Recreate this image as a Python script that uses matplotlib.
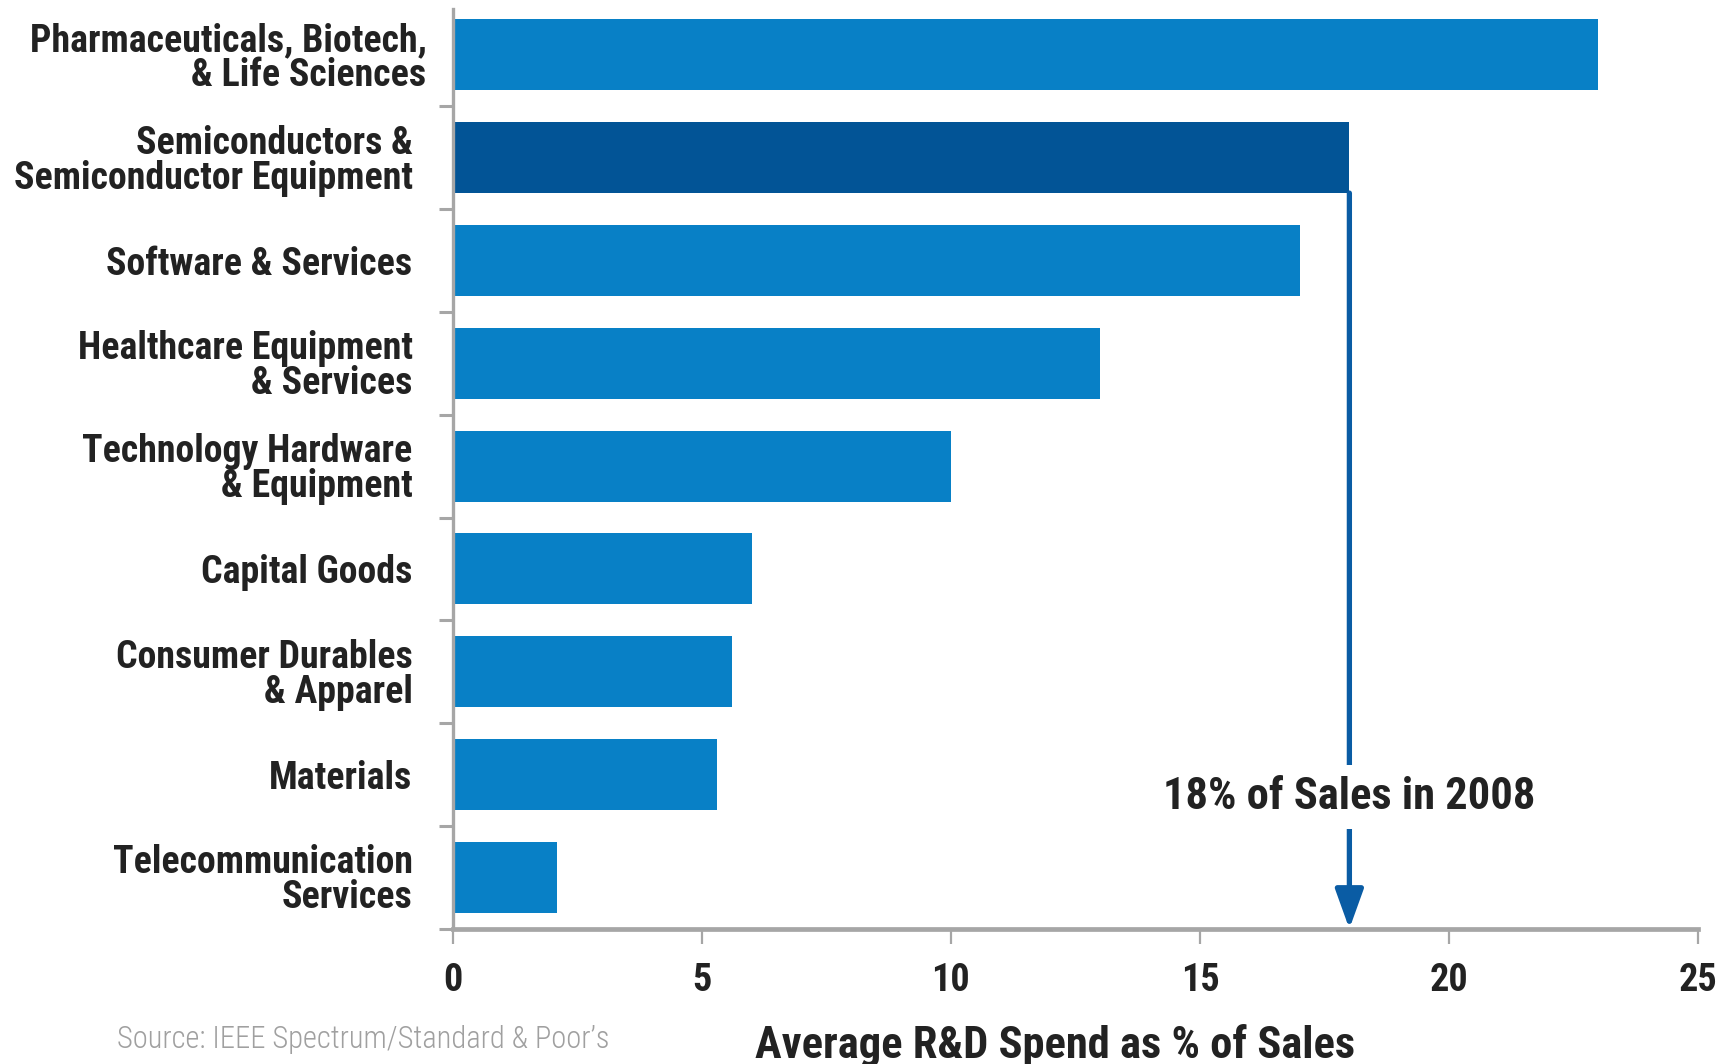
import matplotlib
matplotlib.use("Agg")
import matplotlib.pyplot as plt
import matplotlib.transforms as mtransforms
import numpy as np

sectors = [
    "Pharmaceuticals, Biotech,\n& Life Sciences",
    "Semiconductors &\nSemiconductor Equipment",
    "Software & Services",
    "Healthcare Equipment\n& Services",
    "Technology Hardware\n& Equipment",
    "Capital Goods",
    "Consumer Durables\n& Apparel",
    "Materials",
    "Telecommunication\nServices",
]
rd_share = [23.0, 18.0, 17.0, 13.0, 10.0, 6.0, 5.6, 5.3, 2.1]
highlight = "Semiconductors &\nSemiconductor Equipment"
x_ticks = [0, 5, 10, 15, 20, 25]

BLUE = "#0880c6"
DARK_BLUE = "#025496"
ARROW_BLUE = "#0a5ca4"
AXIS_GRAY = "#a6a6a6"
TEXT = "#222222"

plt.rcParams["font.family"] = ["Roboto Condensed", "IBM Plex Sans Condensed",
                               "Fira Sans Condensed", "Barlow Semi Condensed",
                               "DejaVu Sans"]

fig = plt.figure(figsize=(17.35, 10.64), dpi=100)
ax = fig.add_axes([0.261, 0.127, 0.7177, 0.865])

y = np.arange(len(sectors))
colors = [DARK_BLUE if s == highlight else BLUE for s in sectors]
bar_h = 0.69
ax.barh(y, rd_share, height=bar_h, color=colors, zorder=2)

ax.set_xlim(0, 25)
ax.set_ylim(len(sectors) - 0.5, -0.45)

# category labels at bar centres, tick marks between the bars
ax.set_yticks(y)
ax.set_yticklabels(sectors, fontsize=27.3, fontweight="semibold", color=TEXT,
                   linespacing=0.93)
ax.set_yticks(np.arange(len(sectors)) + 0.5, minor=True)
ax.tick_params(axis="y", which="major", length=0, pad=29)
ax.tick_params(axis="y", which="minor", length=10, width=2.2, color=AXIS_GRAY)

# the top label sits a little closer to the axis
first = ax.get_yticklabels()[0]
first.set_transform(first.get_transform() +
                    mtransforms.ScaledTranslation(14 / 100, 0, fig.dpi_scale_trans))

ax.set_xticks(x_ticks)
ax.set_xticklabels([str(t) for t in x_ticks], fontsize=27.5,
                   fontweight="semibold", color=TEXT)
ax.tick_params(axis="x", length=11, width=1.6, color=AXIS_GRAY, pad=13)

for side in ("top", "right"):
    ax.spines[side].set_visible(False)
ax.spines["left"].set_color(AXIS_GRAY)
ax.spines["left"].set_linewidth(2.4)
ax.spines["bottom"].set_color(AXIS_GRAY)
ax.spines["bottom"].set_linewidth(3.4)
ax.spines["bottom"].set_zorder(3)

ax.set_xlabel("Average R&D Spend as % of Sales", fontsize=32,
              fontweight="semibold", color=TEXT)
ax.xaxis.set_label_coords(0.484, -0.103)

# pointer from the semiconductor bar down to the axis
semi = sectors.index(highlight)
semi_val = rd_share[semi]
ax.annotate("", xy=(semi_val, len(sectors) - 0.5),
            xytext=(semi_val, semi + bar_h / 2),
            arrowprops=dict(arrowstyle="-|>,head_length=1.0,head_width=0.36",
                            color=ARROW_BLUE, lw=3.8, mutation_scale=24,
                            shrinkA=0, shrinkB=0),
            zorder=4)
ax.text(semi_val, 7.22, "18% of Sales in 2008", fontsize=32,
        fontweight="semibold", color=TEXT, ha="center", va="center", zorder=5,
        bbox=dict(facecolor="white", edgecolor="none", pad=8))

fig.text(0.0674, 0.0226, "Source: IEEE Spectrum/Standard & Poor\u2019s",
         fontsize=22, fontweight="light", color="#a0a0a0", ha="left",
         va="center")

fig.savefig("out.png", dpi=100)
